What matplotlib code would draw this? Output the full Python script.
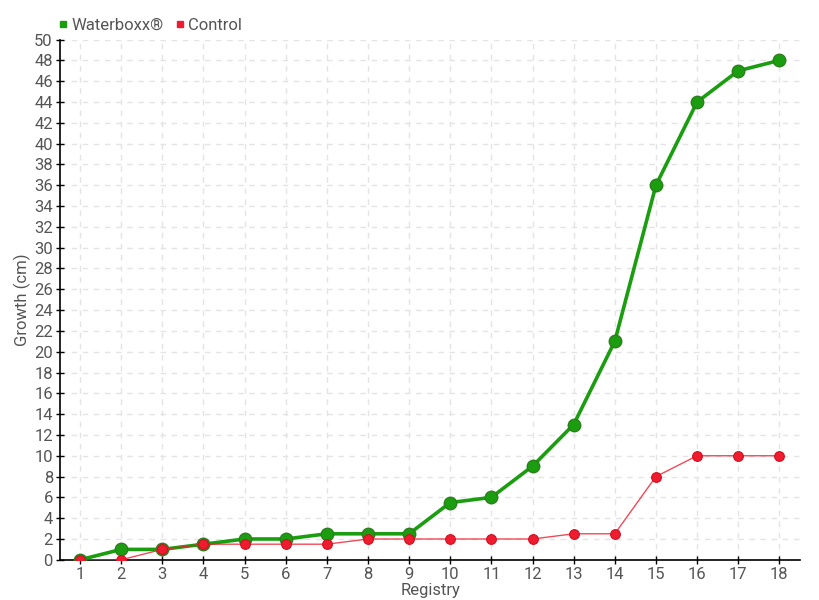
import matplotlib
matplotlib.use("Agg")
import matplotlib.pyplot as plt
from matplotlib.lines import Line2D

plt.rcParams["font.family"] = ["Liberation Sans Narrow", "Roboto", "DejaVu Sans"]

registry = list(range(1, 19))
waterboxx = [0, 1, 1, 1.5, 2, 2, 2.5, 2.5, 2.5, 5.5, 6, 9, 13, 21, 36, 44, 47, 48]
control = [0, 0, 1, 1.5, 1.5, 1.5, 1.5, 2, 2, 2, 2, 2, 2.5, 2.5, 8, 10, 10, 10]

GREEN = "#1a9e10"
GREEN_EDGE = "#2e7d1e"
RED = "#ee1c2e"
TEXT = "#555555"

fig = plt.figure(figsize=(8.2, 6), dpi=100)
ax = fig.add_axes([0.073, 0.067, 0.903, 0.867])

# green series first, control drawn over it as in the original
ax.plot(registry, waterboxx, color=GREEN, linewidth=2.6, zorder=3)
ax.plot(registry, waterboxx, "o", color=GREEN, markersize=9, markeredgecolor=GREEN_EDGE,
        markeredgewidth=1.0, zorder=4)
ax.plot(registry, control, color=RED, linewidth=1.0, alpha=0.8, zorder=5)
ax.plot(registry, control, "o", color=RED, markersize=7, markeredgecolor="#d01020",
        markeredgewidth=0.8, zorder=6)

ax.set_xlim(0.51, 18.51)
ax.set_ylim(0, 50)
ax.set_xticks(registry)
ax.set_yticks(range(0, 51, 2))
ax.grid(True, color="#e4e4e4", linestyle=(0, (4, 4)), linewidth=1)
ax.set_axisbelow(True)

for side in ["top", "right"]:
    ax.spines[side].set_visible(False)
ax.spines["left"].set_linewidth(1.2)
ax.spines["bottom"].set_linewidth(1.2)
ax.tick_params(direction="inout", length=6, width=1, labelsize=12, labelcolor=TEXT, pad=2)

ax.set_xlabel("Registry", color=TEXT, fontsize=12, labelpad=1)
ax.set_ylabel("Growth (cm)", color=TEXT, fontsize=12, labelpad=2)

handles = [
    Line2D([], [], marker="s", linestyle="none", color=GREEN, markersize=5, label="Waterboxx®"),
    Line2D([], [], marker="s", linestyle="none", color=RED, markersize=5, label="Control"),
]
fig.legend(handles=handles, loc="upper left", bbox_to_anchor=(0.05, 0.995), ncol=2,
           frameon=False, fontsize=12, labelcolor=TEXT, handletextpad=0.1,
           columnspacing=0.6, handlelength=0.8)

fig.savefig("out.png", dpi=100)
